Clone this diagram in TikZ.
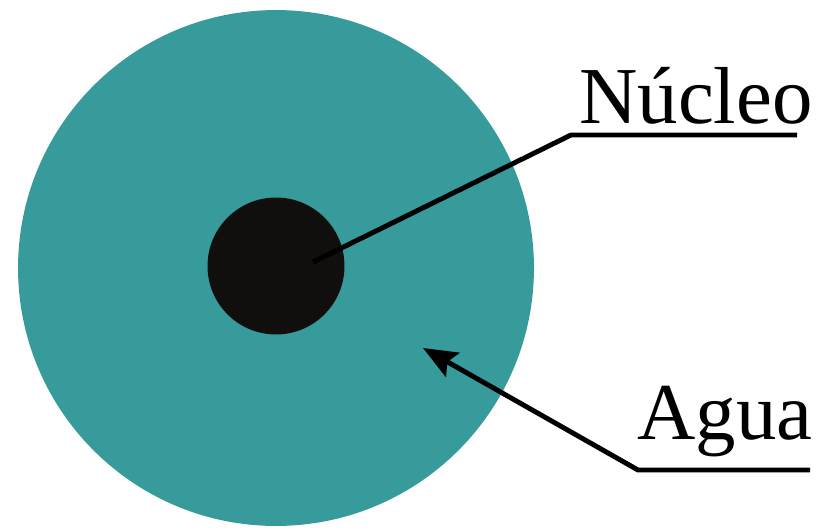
\documentclass[tikz,border=0pt]{standalone}
\usepackage{fontspec}
\setmainfont{Liberation Serif}
\usepackage{xcolor}
\usetikzlibrary{arrows.meta, positioning, calc}
\definecolor{aguateal}{RGB}{54,155,154}
\definecolor{nucleoblack}{RGB}{17,14,14}

\begin{document}
\begin{tikzpicture}[
  x=0.02cm, y=-0.02cm,
  disc/.style   = {circle, inner sep=0pt, draw=none},
  tag/.style    = {inner sep=0pt, anchor=base east,
                   font=\fontsize{46}{54}\selectfont},
  leader/.style = {line width=2.8pt, line join=miter},
  arrow/.style  = {leader, -{Stealth[length=0.68cm, width=0.55cm, inset=0.12cm]}}
]
\useasboundingbox (0,0) rectangle (833,528);

% ── Cell ─────────────────────────────────────────────────────────────────────
\node[disc, fill=aguateal, minimum size=10.32cm]    (agua)   at (276,268) {};
\node[disc, fill=nucleoblack, minimum size=2.74cm]  (nucleo) at (276,266) {};

% ── Labels ───────────────────────────────────────────────────────────────────
\node[tag] (lblnucleo) at (813,123) {Núcleo};
\node[tag] (lblagua)   at (813,439) {Agua};

% ── Leader lines ─────────────────────────────────────────────────────────────
\coordinate (nucleoend)  at (797,135);
\coordinate (nucleoknee) at (571,135);
\coordinate (nucleotip)  at (313,262);
\coordinate (aguaend)    at (810,470);
\coordinate (aguaknee)   at (638,470);
\coordinate (aguatip)    at (423,348);

\draw[leader] (nucleoend) -- (nucleoknee) -- (nucleotip);
\draw[arrow]  (aguaend) -- (aguaknee) -- (aguatip);

\end{tikzpicture}
\end{document}
